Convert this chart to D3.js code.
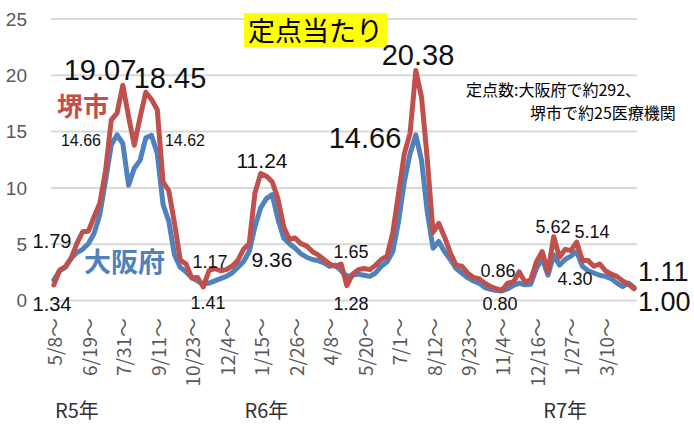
<!DOCTYPE html>
<html>
<head>
<meta charset="utf-8">
<script src="https://cdn.jsdelivr.net/npm/d3@7"></script>
<style>
  body { margin: 0; background: #fff; }
  svg { display: block; font-family: "Liberation Sans", "Noto Sans CJK JP", sans-serif; }
</style>
</head>
<body>
<div id="chart"></div>
<script>
(function() {
  var width = 694, height = 424;

  // weekly values per sentinel clinic, week of 5/8 (R5) onward
  var sakai = [1.34, 2.66, 2.96, 3.7, 5.0, 6.06, 6.1, 7.4, 8.6, 11.5,
    16.0, 16.6, 19.07, 16.3, 13.75, 16.2, 18.45, 17.8, 16.9, 10.5,
    9.7, 6.8, 3.55, 3.2, 1.95, 2.0, 1.17, 2.6, 2.8, 2.6,
    2.7, 3.0, 3.5, 4.5, 5.0, 9.5, 11.24, 11.0, 10.5, 9.0,
    6.5, 5.4, 5.5, 5.0, 4.8, 4.3, 4.0, 3.6, 3.2, 3.0,
    3.2, 1.28, 2.3, 2.7, 2.8, 2.7, 3.1, 3.6, 3.9, 6.0,
    9.5, 13.0, 14.8, 20.38, 18.0, 12.5, 6.0, 6.8, 5.6, 4.2,
    3.1, 3.0, 2.4, 2.0, 1.9, 1.5, 1.2, 1.0, 0.86, 1.5,
    1.6, 2.5, 1.6, 1.8, 3.4, 4.3, 2.5, 5.62, 3.8, 4.5,
    4.4, 5.14, 3.5, 3.5, 3.0, 3.2, 2.6, 2.3, 2.1, 1.7,
    1.4, 1.00];

  var osaka = [1.79, 2.6, 2.9, 3.7, 4.2, 4.5, 5.0, 5.9, 7.6, 10.6,
    13.8, 14.66, 13.9, 10.2, 11.7, 12.4, 14.4, 14.62, 13.0, 8.5,
    7.0, 4.0, 2.9, 2.5, 2.0, 1.7, 1.41, 1.5, 1.7, 1.9,
    2.1, 2.4, 2.9, 3.4, 4.3, 6.5, 8.2, 9.0, 9.36, 7.2,
    5.5, 5.0, 4.6, 4.1, 3.8, 3.6, 3.5, 3.3, 3.0, 3.1,
    2.6, 2.1, 2.2, 2.3, 2.2, 2.1, 2.4, 3.0, 3.4, 4.3,
    7.0, 10.5, 13.0, 14.66, 12.4, 7.8, 4.6, 5.2, 4.3, 3.6,
    2.8, 2.4, 2.0, 1.7, 1.5, 1.1, 0.95, 0.85, 0.80, 1.0,
    1.3, 1.5, 1.35, 1.4, 2.8, 3.7, 2.2, 4.0, 3.1, 3.6,
    3.9, 4.30, 3.0, 2.6, 2.4, 2.2, 2.1, 1.9, 1.5, 1.2,
    1.5, 1.11];

  var tickLabels = ["5/8", "6/19", "7/31", "9/11", "10/23", "12/4", "1/15", "2/26", "4/8",
    "5/20", "7/1", "8/12", "9/23", "11/4", "12/16", "1/27", "3/10"];
  var yTicks = [0, 5, 10, 15, 20, 25];
  var yearLabels = ["R5年", "R6年", "R7年"];
  var valueLabels = ["1.79", "1.34", "19.07", "18.45", "14.66", "14.62", "1.17", "1.41",
    "11.24", "9.36", "1.65", "1.28", "14.66", "20.38", "0.86", "0.80",
    "5.62", "5.14", "4.30", "1.11", "1.00"];

  var svg = d3.select('#chart').append('svg').attr('width', width).attr('height', height);

  var x = d3.scalePoint().domain(d3.range(sakai.length)).range([51, 637]).padding(0.5);
  var y = d3.scaleLinear().domain([0, 25]).range([300, 18.5]);

  // grid + y labels
  var yAxis = svg.append('g').attr('transform', 'translate(51,0)')
    .call(d3.axisLeft(y).tickValues(yTicks).tickSize(-586).tickPadding(24));
  yAxis.select('.domain').remove();
  yAxis.selectAll('line').attr('stroke', '#d9d9d9').attr('stroke-width', 2);
  yAxis.selectAll('text').attr('fill', '#595959').style('font-size', '19px')
    .attr('dy', '0.35em');

  // x labels, rotated
  var xAxis = svg.append('g').attr('transform', 'translate(0,300)')
    .call(d3.axisBottom(x)
      .tickValues(d3.range(0, sakai.length, 6))
      .tickFormat(function(d) { return tickLabels[d / 6] + '～'; })
      .tickSize(0));
  xAxis.select('.domain').remove();
  xAxis.selectAll('text')
    .attr('fill', '#595959')
    .style('font-family', '"Noto Sans CJK JP"').style('font-size', '19px')
    .attr('text-anchor', 'end')
    .attr('transform', 'translate(8,18) rotate(-90)')
    .attr('x', 0).attr('y', 0).attr('dy', 0);

  svg.selectAll('text.year').data(yearLabels).enter().append('text')
    .attr('class', 'year')
    .attr('x', function(d, i) { return x([4, 37, 89][i]); })
    .attr('y', 418)
    .attr('text-anchor', 'middle')
    .style('font-family', '"Noto Sans CJK JP"').style('font-size', '20px')
    .attr('fill', '#333')
    .text(function(d) { return d; });

  var line = d3.line()
    .x(function(d, i) { return x(i); })
    .y(function(d) { return y(d); });

  svg.append('path').datum(osaka)
    .attr('d', line).attr('fill', 'none')
    .attr('stroke', '#4f81bd').attr('stroke-width', 5)
    .attr('stroke-linejoin', 'round').attr('stroke-linecap', 'round');

  svg.append('path').datum(sakai)
    .attr('d', line).attr('fill', 'none')
    .attr('stroke', '#c0504d').attr('stroke-width', 5)
    .attr('stroke-linejoin', 'round').attr('stroke-linecap', 'round');

  // title
  svg.append('rect').attr('x', 244).attr('y', 13).attr('width', 143).attr('height', 34)
    .attr('fill', '#ffff00');
  svg.append('text').attr('x', 315.5).attr('y', 41).attr('text-anchor', 'middle')
    .style('font-family', '"Noto Sans CJK JP"').style('font-size', '27px')
    .attr('fill', '#000').text('定点当たり');

  // series names
  svg.append('text').attr('x', 57).attr('y', 116)
    .style('font-family', '"Noto Sans CJK JP"').style('font-size', '26px').style('font-weight', 'bold')
    .attr('fill', '#c0504d').text('堺市');
  svg.append('text').attr('x', 84).attr('y', 272)
    .style('font-family', '"Noto Sans CJK JP"').style('font-size', '27px').style('font-weight', 'bold')
    .attr('fill', '#4f81bd').text('大阪府');

  // note
  svg.append('text').attr('x', 466).attr('y', 96)
    .style('font-family', '"Noto Sans CJK JP"').style('font-size', '16px')
    .attr('fill', '#000').text('定点数:大阪府で約292、');
  svg.append('text').attr('x', 530).attr('y', 119)
    .style('font-family', '"Noto Sans CJK JP"').style('font-size', '16px')
    .attr('fill', '#000').text('堺市で約25医療機関');

  // value labels: [x, baseline, size, anchor]
  var labelPos = [
    [52, 248, 20, 'middle'], [52, 311, 20, 'middle'],
    [100, 80, 29, 'middle'], [170, 88, 29, 'middle'],
    [81, 146, 16, 'middle'], [185, 146, 16, 'middle'],
    [210, 268, 18, 'middle'], [208, 309, 18, 'middle'],
    [262, 168, 21, 'middle'], [272, 267, 21, 'middle'],
    [351, 258, 18, 'middle'], [351, 310, 18, 'middle'],
    [365, 148, 29, 'middle'], [418, 65, 29, 'middle'],
    [498, 277, 18, 'middle'], [500, 310, 18, 'middle'],
    [553, 233, 18, 'middle'], [592, 238, 18, 'middle'],
    [575, 285, 18, 'middle'],
    [638, 281, 27, 'start'], [638, 311, 27, 'start']
  ];
  svg.selectAll('text.val').data(valueLabels).enter().append('text')
    .attr('class', 'val')
    .attr('x', function(d, i) { return labelPos[i][0]; })
    .attr('y', function(d, i) { return labelPos[i][1]; })
    .attr('text-anchor', function(d, i) { return labelPos[i][3]; })
    .style('font-size', function(d, i) { return labelPos[i][2] + 'px'; })
    .attr('fill', '#111')
    .text(function(d) { return d; });
})();
</script>
</body>
</html>
